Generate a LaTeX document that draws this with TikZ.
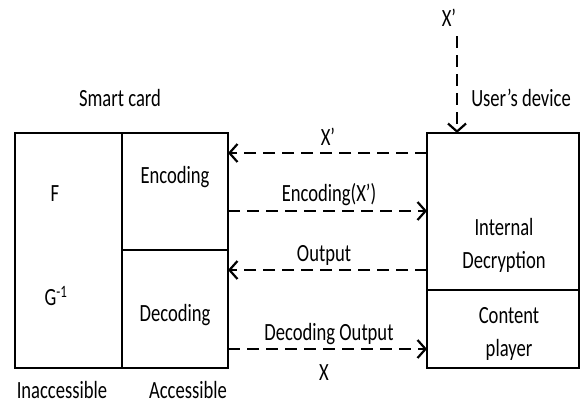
\documentclass[tikz,border=0pt]{standalone}
\usepackage{fontspec}
\setmainfont{Carlito}
\usetikzlibrary{arrows.meta}
% text is set tall and narrow
\newcommand\tall[1]{\scalebox{1}[1.33]{#1}}
\newcommand\twolines[2]{\tall{\begin{tabular}{@{}c@{}}#1\\[3pt]#2\end{tabular}}}
\begin{document}
\begin{tikzpicture}[x=1pt,y=-1pt,
  box/.style={draw,line width=2.7pt,inner sep=0pt},
  flow/.style={line width=2.5pt,dash pattern=on 12pt off 7pt,
    -{Straight Barb[length=8pt,width=18pt,line width=2.2pt]}},
  lbl/.style={font=\fontsize{18.6}{22}\selectfont,inner sep=0pt},
  every node/.style={lbl}]
\useasboundingbox (0,0) rectangle (585,405);
% smart card
\draw[box] (15,133) rectangle (228,368);
\draw[box] (122,133) -- (122,368);
\draw[box] (122,250) -- (228,250);
% user's device
\draw[box] (427,133) rectangle (579,368);
\draw[box] (427,290) -- (579,290);
% anchors on the box edges
\coordinate (sc1) at (228,153);
\coordinate (sc2) at (228,211);
\coordinate (sc3) at (228,270);
\coordinate (sc4) at (228,349);
\coordinate (ud1) at (427,153);
\coordinate (ud2) at (427,211);
\coordinate (ud3) at (427,270);
\coordinate (ud4) at (427,349);
\coordinate (udtop) at (457,133);
\coordinate (xin) at (457,36);
% texts
\node (sctitle) at (120,98) {\tall{Smart card}};
\node (udtitle) at (521,98) {\tall{User’s device}};
\node (xtop) at (449,18) {\tall{X’}};
\node (f) at (55,194) {\tall{F}};
\node (ginv) at (56,296) {\tall{G\textsuperscript{-1}}};
\node (enc) at (175,177) {\tall{Encoding}};
\node (dec) at (175,315) {\tall{Decoding}};
\node (inacc) at (62,390) {\tall{Inaccessible}};
\node (acc) at (188,390) {\tall{Accessible}};
\node (intdec) at (504,246) {\twolines{Internal}{Decryption}};
\node (player) at (509,334) {\twolines{Content}{player}};
\node (l1) at (328,137) {\tall{X’}};
\node (l2) at (329,195) {\tall{Encoding(X’)}};
\node (l3) at (324,255) {\tall{Output}};
\node (l4) at (329,334) {\tall{Decoding Output}};
\node (l5) at (324,373) {\tall{X}};
% connectors
\draw[flow] (xin) -- (udtop);
\draw[flow] (ud1) -- (sc1);
\draw[flow] (sc2) -- (ud2);
\draw[flow] (ud3) -- (sc3);
\draw[flow] (sc4) -- (ud4);
\end{tikzpicture}
\end{document}
